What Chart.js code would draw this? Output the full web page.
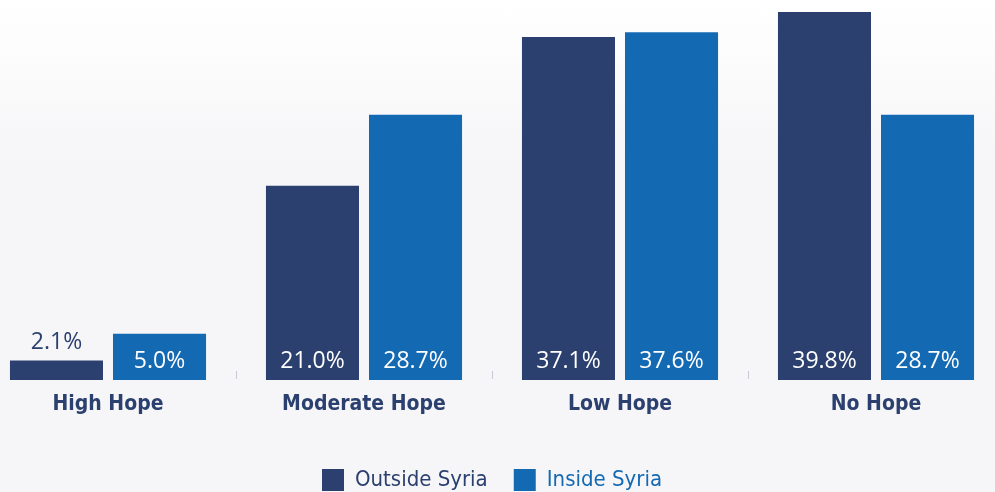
<!DOCTYPE html>
<html>
<head>
<meta charset="utf-8">
<script src="https://cdn.jsdelivr.net/npm/chart.js@4/dist/chart.umd.min.js"></script>
<style>
  html, body { margin: 0; padding: 0; }
  body {
    width: 995px; height: 492px; overflow: hidden; position: relative;
    background: linear-gradient(to bottom, #ffffff 0px, #f6f6f8 160px, #f6f6f8 100%);
  }
  #wrap { position: absolute; left: -20px; top: 0; width: 1024px; height: 503px; }
</style>
</head>
<body>
<div id="wrap"><canvas id="hopeChart"></canvas></div>
<script>
// === DATA ===
const categories = ["High Hope", "Moderate Hope", "Low Hope", "No Hope"];
const outsideSyria = [2.1, 21.0, 37.1, 39.8];
const insideSyria = [5.0, 28.7, 37.6, 28.7];
const seriesNames = ["Outside Syria", "Inside Syria"];

const NAVY = "#2b406f";
const BLUE = "#1469b3";
const LABEL_FONT = "'Liberation Sans Narrow', 'DejaVu Sans Condensed', 'Roboto', sans-serif";

// value labels drawn inside the bar (or above when the bar is too short)
const valueLabels = {
  id: "valueLabels",
  afterDatasetsDraw(chart) {
    const c = chart.ctx;
    c.save();
    c.font = "400 23px 'Open Sans', 'Noto Sans', sans-serif";
    c.textAlign = "center";
    c.textBaseline = "middle";
    chart.data.datasets.forEach((ds, di) => {
      chart.getDatasetMeta(di).data.forEach((bar, i) => {
        const txt = ds.data[i].toFixed(1) + "%";
        const h = bar.base - bar.y;
        if (h < 30) {
          c.fillStyle = NAVY;
          c.fillText(txt, bar.x, bar.y - 18);
        } else {
          c.fillStyle = "#ffffff";
          c.fillText(txt, bar.x, bar.base - 19);
        }
      });
    });
    c.restore();
  },
};

// small separator marks between categories
const separators = {
  id: "separators",
  afterDatasetsDraw(chart) {
    const x = chart.scales.x;
    const c = chart.ctx;
    c.save();
    c.strokeStyle = "#c8cbd3";
    c.lineWidth = 1;
    for (let i = 1; i < categories.length; i++) {
      const px = Math.round((x.getPixelForValue(i - 1) + x.getPixelForValue(i)) / 2) + 0.5;
      c.beginPath();
      c.moveTo(px, x.top - 9);
      c.lineTo(px, x.top - 1);
      c.stroke();
    }
    c.restore();
  },
};

const ctx = document.getElementById("hopeChart").getContext("2d");

new Chart(ctx, {
  type: "bar",
  data: {
    labels: categories,
    datasets: [
      { label: seriesNames[0], data: outsideSyria, backgroundColor: NAVY },
      { label: seriesNames[1], data: insideSyria, backgroundColor: BLUE },
    ],
  },
  options: {
    responsive: true,
    maintainAspectRatio: false,
    animation: false,
    categoryPercentage: 0.805,
    barPercentage: 0.903,
    layout: { padding: { top: 0, bottom: 2 } },
    plugins: {
      tooltip: { enabled: false },
      legend: {
        position: "bottom",
        labels: {
          boxWidth: 22,
          boxHeight: 22,
          padding: 26,
          font: { family: LABEL_FONT, size: 22 },
          generateLabels(chart) {
            return chart.data.datasets.map((ds, i) => ({
              text: ds.label,
              fillStyle: ds.backgroundColor,
              strokeStyle: ds.backgroundColor,
              lineWidth: 0,
              fontColor: ds.backgroundColor,
              datasetIndex: i,
              hidden: false,
            }));
          },
        },
      },
    },
    scales: {
      y: { display: false, beginAtZero: true, max: 41.1 },
      x: {
        border: { display: false },
        grid: { display: false },
        afterFit(scale) { scale.height = 63; },
        ticks: {
          color: NAVY,
          padding: 4,
          font: { family: LABEL_FONT, size: 21, weight: "bold" },
        },
      },
    },
  },
  plugins: [valueLabels, separators],
});
</script>
</body>
</html>
